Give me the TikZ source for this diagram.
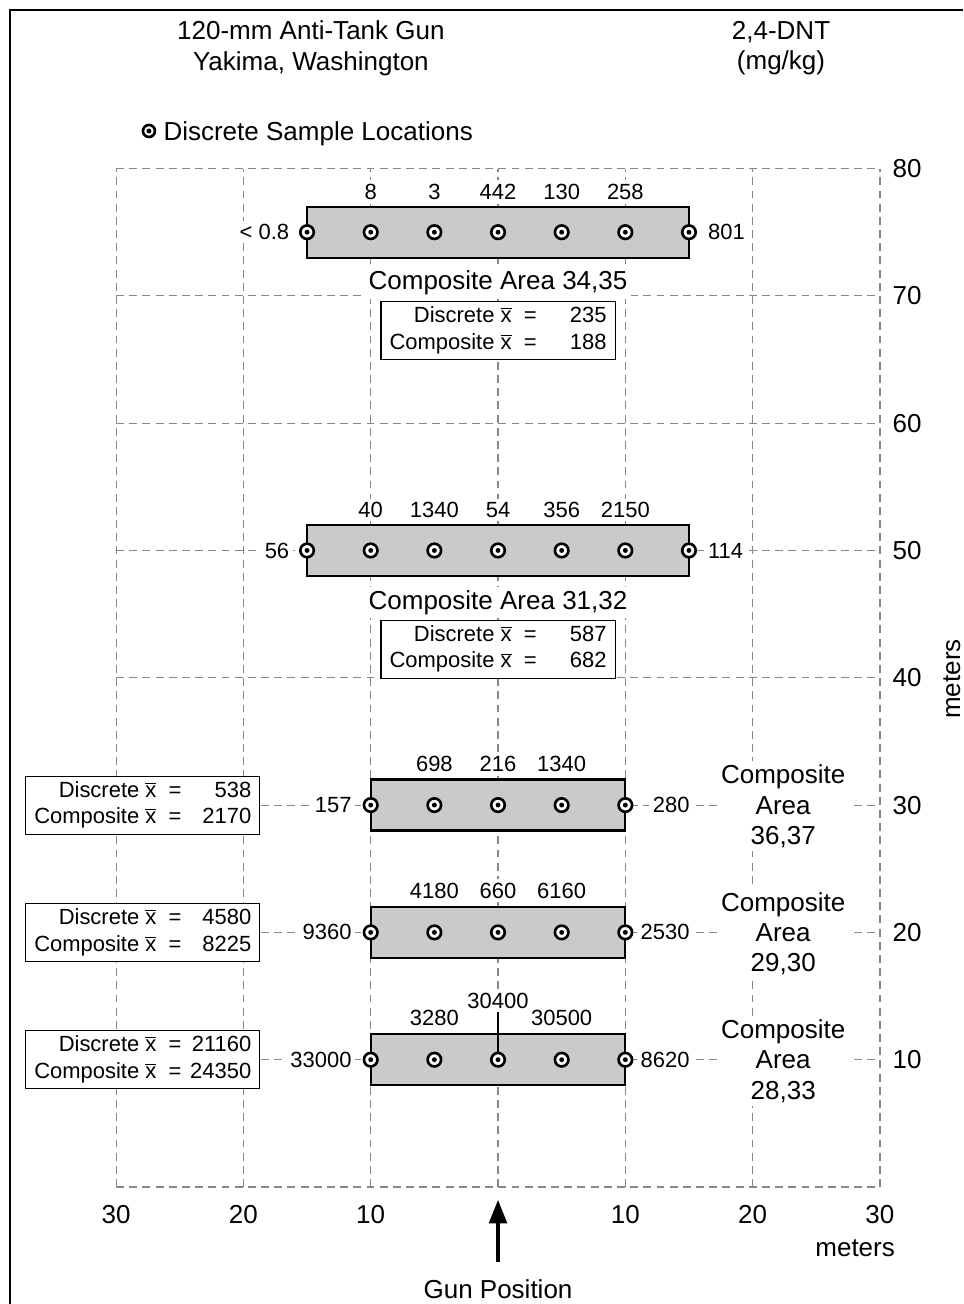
\documentclass[tikz,border=0pt]{standalone}
\usepackage{fontspec}
\setmainfont{Liberation Sans}
\usepackage{tikz}
\usetikzlibrary{arrows.meta}
\definecolor{gridgray}{RGB}{135,135,135}
\definecolor{boxgray}{RGB}{202,202,202}
\newcommand{\bigsz}{\fontsize{14.8}{17.3}\selectfont}
\newcommand{\smallsz}{\fontsize{12.5}{15.3}\selectfont}
\newcommand{\xbar}{$\overline{\mbox{x}}$}
\newcommand{\meanrows}[2]{%
  \begin{tabular}{@{}r@{\hspace{5pt}}r@{}}
    Discrete \xbar\ \ = & \hphantom{00000}\llap{#1}\\
    Composite \xbar\ \ = & \hphantom{00000}\llap{#2}
  \end{tabular}}

\begin{document}
\begin{tikzpicture}[x=0.2546cm,y=0.2546cm,
  gridline/.style={gridgray,line width=0.65pt,dash pattern=on 4.5pt off 3pt},
  areabox/.style={draw=black,fill=boxgray,line width=1.3pt},
  sample/.style={circle,draw=black,fill=white,line width=1.5pt,minimum size=0.27cm,inner sep=0pt,
    path picture={\fill[black] (path picture bounding box.center) circle (1.4pt);}},
  datalbl/.style={fill=white,inner sep=2pt,font=\smallsz},
  meanbox/.style={draw=black,fill=white,line width=0.6pt,minimum width=4.68cm,minimum height=1.16cm,inner sep=0pt,font=\smallsz},
  arealbl/.style={fill=white,inner sep=2pt,font=\bigsz,align=center},
  axislbl/.style={inner sep=2pt,font=\bigsz}]
  \useasboundingbox (-39.12,-9.19) rectangle (36.53,93.24);
  % frame (cut at right and bottom)
  \draw[line width=1.6pt] (-38.33,-9.19) -- (-38.33,92.46) -- (36.53,92.46);
  % grid
  \foreach \y in {0,10,...,80} \draw[gridline] (-30,\y) -- (30,\y);
  \foreach \x in {-30,-20,...,30} \draw[gridline] (\x,0) -- (\x,80);
  % titles and legend
  \node[align=center,font=\bigsz] (title) at (-14.7,89.46) {120-mm Anti-Tank Gun\\Yakima, Washington};
  \node[align=center,font=\bigsz] (analyte) at (22.23,89.46) {2,4-DNT\\(mg/kg)};
  \node[sample,minimum size=0.24cm] (legsym) at (-27.42,82.95) {};
  \node[axislbl,anchor=west] (legtxt) at (-26.58,82.76) {Discrete Sample Locations};
  % composite areas
  \draw[areabox] (-15,73) rectangle (15,77);
  \draw[areabox] (-15,48) rectangle (15,52);
  \draw[areabox] (-10,28) rectangle (10,32);
  \draw[areabox] (-10,18) rectangle (10,22);
  \draw[areabox] (-10,8) rectangle (10,12);
  % discrete values above the areas
  \foreach \v [count=\i] in {8,3,442,130,258}
    \node[datalbl,anchor=base] (ta\i) at ({-15+5*\i},77.6) {\v};
  \foreach \v [count=\i] in {40,1340,54,356,2150}
    \node[datalbl,anchor=base] (tb\i) at ({-15+5*\i},52.6) {\v};
  \foreach \v [count=\i] in {698,216,1340}
    \node[datalbl,anchor=base] (tc\i) at ({-10+5*\i},32.6) {\v};
  \foreach \v [count=\i] in {4180,660,6160}
    \node[datalbl,anchor=base] (td\i) at ({-10+5*\i},22.7) {\v};
  \node[datalbl,anchor=base] (te1) at (-5,12.65) {3280};
  \node[datalbl,anchor=base] (te2) at (0,14.06) {30400};
  \node[datalbl,anchor=base] (te3) at (5,12.65) {30500};
  % discrete values at the ends
  \node[datalbl,anchor=east] (la) at (-16.1,75) {< 0.8};
  \node[datalbl,anchor=west] (ra) at (16.2,75) {801};
  \node[datalbl,anchor=east] (lb) at (-16.1,50) {56};
  \node[datalbl,anchor=west] (rb) at (16.2,50) {114};
  \node[datalbl,anchor=east] (lc) at (-11.2,30) {157};
  \node[datalbl,anchor=east] (rc) at (15.35,30) {280};
  \node[datalbl,anchor=east] (ld) at (-11.2,20) {9360};
  \node[datalbl,anchor=east] (rd) at (15.35,20) {2530};
  \node[datalbl,anchor=east] (le) at (-11.2,10) {33000};
  \node[datalbl,anchor=east] (re) at (15.35,10) {8620};
  % sample locations
  \foreach \x [count=\i] in {-15,-10,...,15} \node[sample] (sa\i) at (\x,75) {};
  \foreach \x [count=\i] in {-15,-10,...,15} \node[sample] (sb\i) at (\x,50) {};
  \foreach \x [count=\i] in {-10,-5,...,10} \node[sample] (sc\i) at (\x,30) {};
  \foreach \x [count=\i] in {-10,-5,...,10} \node[sample] (sd\i) at (\x,20) {};
  \foreach \x [count=\i] in {-10,-5,...,10} \node[sample] (se\i) at (\x,10) {};
  \draw[line width=0.8pt] (te2.south) -- (se3.north);
  % area names
  \node[arealbl] (areaa) at (0,71.0) {Composite Area 34,35};
  \node[arealbl] (areab) at (0,45.9) {Composite Area 31,32};
  \node[arealbl] (areac) at (22.4,29.9) {Composite\\Area\\36,37};
  \node[arealbl] (aread) at (22.4,19.9) {Composite\\Area\\29,30};
  \node[arealbl] (areae) at (22.4,9.9) {Composite\\Area\\28,33};
  % means
  \node[meanbox] (meana) at (0,67.25) {\meanrows{235}{188}};
  \node[meanbox] (meanb) at (0,42.25) {\meanrows{587}{682}};
  \node[meanbox] (meanc) at (-27.9,30) {\meanrows{538}{2170}};
  \node[meanbox] (meand) at (-27.9,20) {\meanrows{4580}{8225}};
  \node[meanbox] (meane) at (-27.9,10) {\meanrows{21160}{24350}};
  % axes
  \foreach \x/\t in {-30/30,-20/20,-10/10,10/10,20/20,30/30}
    \node[axislbl] (bx\x) at (\x,-2.2) {\t};
  \foreach \y in {10,20,...,80}
    \node[axislbl,anchor=west] (ry\y) at (30.7,\y) {\y};
  \node[axislbl] (hmeters) at (28.05,-4.8) {meters};
  \node[rotate=90,anchor=base,inner sep=0pt,font=\bigsz] (vmeters) at (36.3,39.9) {meters};
  % gun position
  \node[axislbl] (gun) at (0,-8.0) {Gun Position};
  \coordinate (gunbase) at (0,-5.9);
  \coordinate (guntip) at (0,-1.0);
  \draw[line width=2.3pt,-{Triangle[width=10pt,length=13.5pt]}] (gunbase) -- (guntip);
\end{tikzpicture}
\end{document}
